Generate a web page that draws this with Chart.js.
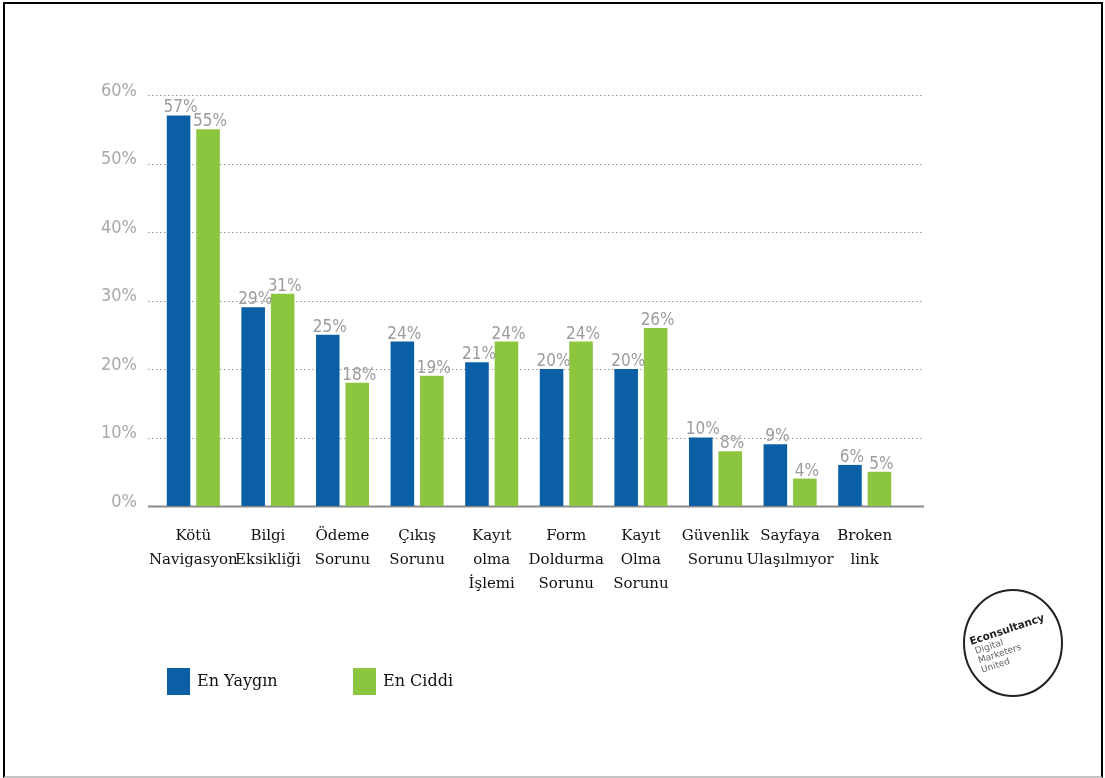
<!DOCTYPE html>
<html>
<head>
<meta charset="utf-8">
<script src="https://cdn.jsdelivr.net/npm/chart.js@4.4.1/dist/chart.umd.min.js"></script>
<style>
  html, body { margin: 0; padding: 0; background: #fff; }
  #wrap { position: relative; width: 1105px; height: 778px; }
  #frame {
    position: absolute; left: 3px; top: 2px; width: 1100px; height: 776px;
    box-sizing: border-box; border: 2px solid #000; border-bottom: 2px solid #c4c4c4;
    pointer-events: none;
  }
</style>
</head>
<body>
<div id="wrap">
  <canvas id="sorunChart" width="1105" height="778"></canvas>
  <div id="frame"></div>
</div>
<script>
const categories = [
    ['Kötü', 'Navigasyon'],
    ['Bilgi', 'Eksikliği'],
    ['Ödeme', 'Sorunu'],
    ['Çıkış', 'Sorunu'],
    ['Kayıt', 'olma', 'İşlemi'],
    ['Form', 'Doldurma', 'Sorunu'],
    ['Kayıt', 'Olma', 'Sorunu'],
    ['Güvenlik', 'Sorunu'],
    ['Sayfaya', 'Ulaşılmıyor'],
    ['Broken', 'link']
];
const seriesNames = ['En Yaygın', 'En Ciddi'];
const enYaygin = [57, 29, 25, 24, 21, 20, 20, 10, 9, 6];
const enCiddi = [55, 31, 18, 19, 24, 24, 26, 8, 4, 5];
const yTicks = [0, 10, 20, 30, 40, 50, 60];

const BLUE = '#0b5fa5';
const GREEN = '#8cc63f';
const NARROW = '"Liberation Sans Narrow", "DejaVu Sans Condensed", "Roboto Condensed", sans-serif';
const SERIF = '"DejaVu Serif", "Liberation Serif", serif';

// dotted guide lines run a bit past the plot on both sides
const guides = {
    id: 'guides',
    beforeDatasetsDraw(chart) {
        const {ctx, chartArea, scales: {y}} = chart;
        const x0 = chartArea.left - 8;
        const x1 = chartArea.right + 22;
        ctx.save();
        yTicks.forEach(v => {
            const py = Math.round(y.getPixelForValue(v)) + 0.5;
            ctx.beginPath();
            if (v === 0) {
                ctx.setLineDash([]);
                ctx.strokeStyle = '#8a8a8a';
                ctx.lineWidth = 2;
            } else {
                ctx.setLineDash([1.5, 2.5]);
                ctx.strokeStyle = '#9a9a9a';
                ctx.lineWidth = 1.2;
            }
            ctx.moveTo(x0, py);
            ctx.lineTo(x1, py);
            ctx.stroke();
        });
        ctx.restore();
    }
};

const valueLabels = {
    id: 'valueLabels',
    afterDatasetsDraw(chart) {
        const {ctx} = chart;
        ctx.save();
        ctx.font = '17px ' + NARROW;
        ctx.fillStyle = '#9c9c9c';
        ctx.textAlign = 'center';
        ctx.textBaseline = 'bottom';
        chart.data.datasets.forEach((ds, i) => {
            chart.getDatasetMeta(i).data.forEach((bar, j) => {
                ctx.fillText(ds.data[j] + '%', bar.x + 2, bar.y + 1);
            });
        });
        ctx.restore();
    }
};

// legend squares under the axis labels
const legendBoxes = {
    id: 'legendBoxes',
    afterDraw(chart) {
        const {ctx, chartArea} = chart;
        ctx.save();
        ctx.font = '16px ' + SERIF;
        ctx.fillStyle = '#111';
        ctx.textBaseline = 'middle';
        chart.data.datasets.forEach((ds, i) => {
            const bx = chartArea.left + 11 + i * 186;
            const by = chartArea.bottom + 162;
            ctx.fillStyle = ds.backgroundColor;
            ctx.fillRect(bx, by, 23, 27);
            ctx.fillStyle = '#111';
            ctx.fillText(ds.label, bx + 30, by + 14);
        });
        ctx.restore();
    }
};

const badge = {
    id: 'badge',
    afterDraw(chart) {
        const {ctx} = chart;
        ctx.save();
        ctx.strokeStyle = '#222';
        ctx.lineWidth = 2;
        ctx.beginPath();
        ctx.ellipse(1013, 643, 49, 53, 0, 0, Math.PI * 2);
        ctx.stroke();
        ctx.translate(971, 645);
        ctx.rotate(-0.32);
        ctx.fillStyle = '#222';
        ctx.font = 'bold 10.5px "DejaVu Sans", sans-serif';
        ctx.fillText('Econsultancy', 0, 0);
        ctx.fillStyle = '#666';
        ctx.font = '9px "DejaVu Sans", sans-serif';
        ctx.fillText('Digital', 2, 10);
        ctx.fillText('Marketers', 2, 20);
        ctx.fillText('United', 2, 30);
        ctx.restore();
    }
};

new Chart(document.getElementById('sorunChart'), {
    type: 'bar',
    data: {
        labels: categories,
        datasets: [
            { label: seriesNames[0], data: enYaygin, backgroundColor: BLUE },
            { label: seriesNames[1], data: enCiddi, backgroundColor: GREEN }
        ]
    },
    options: {
        responsive: false,
        animation: false,
        layout: { padding: { left: 0, right: 203, top: 95, bottom: 0 } },
        datasets: {
            bar: { categoryPercentage: 0.79, barPercentage: 0.8 }
        },
        scales: {
            x: {
                grid: { display: false, drawTicks: false },
                border: { display: false },
                afterFit(scale) { scale.height = 272; },
                ticks: {
                    color: '#111',
                    padding: 18,
                    maxRotation: 0,
                    autoSkip: false,
                    font: { family: SERIF, size: 15, lineHeight: 1.6 }
                }
            },
            y: {
                min: 0,
                max: 60,
                grid: { display: false, drawTicks: false },
                border: { display: false },
                afterFit(scale) { scale.width = 156; },
                afterBuildTicks(scale) { scale.ticks = yTicks.map(v => ({ value: v })); },
                ticks: {
                    color: '#a8a8a8',
                    padding: 19,
                    labelOffset: -4,
                    font: { family: NARROW, size: 18 },
                    callback: v => v + '%'
                }
            }
        },
        plugins: {
            legend: { display: false },
            tooltip: { enabled: false }
        }
    },
    plugins: [guides, valueLabels, legendBoxes, badge]
});
</script>
</body>
</html>
